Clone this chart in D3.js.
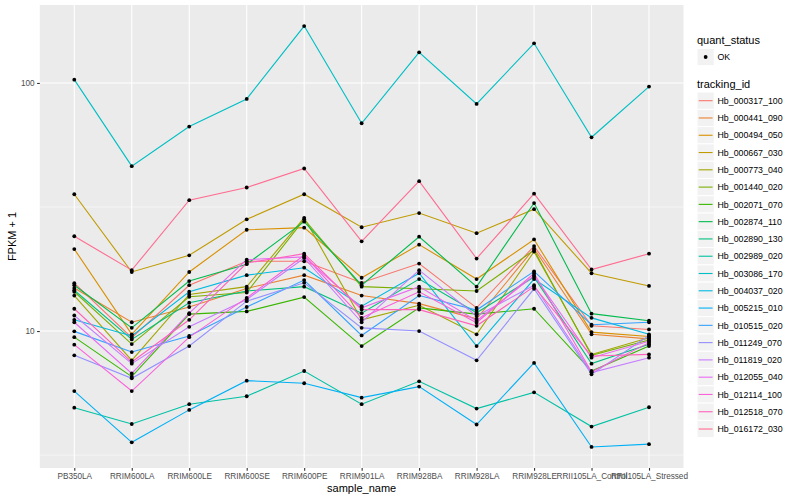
<!DOCTYPE html>
<html>
<head>
<meta charset="utf-8">
<script src="https://cdn.jsdelivr.net/npm/d3@7/dist/d3.min.js"></script>
<style>
body { margin: 0; background: #fff; }
text { font-family: "Liberation Sans", Arial, sans-serif; }
</style>
</head>
<body>
<div id="chart"></div>
<script>
// sample names on the x axis
const samples = ["PB350LA", "RRIM600LA", "RRIM600LE", "RRIM600SE", "RRIM600PE", "RRIM901LA",
  "RRIM928BA", "RRIM928LA", "RRIM928LE", "RRII105LA_Control", "RRII105LA_Stressed"];

const trackingIds = ["Hb_000317_100", "Hb_000441_090", "Hb_000494_050", "Hb_000667_030", "Hb_000773_040",
  "Hb_001440_020", "Hb_002071_070", "Hb_002874_110", "Hb_002890_130", "Hb_002989_020",
  "Hb_003086_170", "Hb_004037_020", "Hb_005215_010", "Hb_010515_020", "Hb_011249_070",
  "Hb_011819_020", "Hb_012055_040", "Hb_012114_100", "Hb_012518_070", "Hb_016172_030"];

// FPKM + 1, one array per gene, in sample order
const Hb_000317_100 = [15.6, 9.4, 15.3, 19.1, 19.1, 15.65, 18.7, 12.4, 22.0, 10.5, 10.15];
const Hb_000441_090 = [14.9, 10.85, 12.5, 14.85, 16.8, 13.9, 12.9, 11.2, 21.5, 9.7, 9.3];
const Hb_000494_050 = [21.4, 9.7, 17.3, 25.6, 26.1, 16.4, 22.3, 16.2, 23.4, 9.9, 9.5];
const Hb_000667_030 = [35.6, 17.3, 20.2, 28.2, 35.6, 26.2, 29.9, 24.8, 31.0, 17.1, 15.2];
const Hb_000773_040 = [13.9, 7.62, 14.05, 15.1, 28.6, 11.1, 12.7, 9.7, 20.9, 8.05, 9.4];
const Hb_001440_020 = [14.4, 8.86, 13.75, 14.3, 28.2, 15.1, 14.8, 14.5, 21.2, 7.98, 9.2];
const Hb_002071_070 = [9.45, 6.55, 11.7, 12.0, 13.7, 8.7, 12.4, 11.7, 12.3, 6.9, 8.7];
const Hb_002874_110 = [15.3, 10.3, 15.9, 18.6, 27.6, 15.3, 24.0, 15.1, 32.8, 11.75, 11.0];
const Hb_002890_130 = [14.6, 9.25, 13.0, 14.5, 15.1, 11.8, 16.2, 11.85, 16.5, 7.39, 8.84];
const Hb_002989_020 = [4.91, 4.22, 5.07, 5.46, 6.9, 5.07, 6.27, 4.87, 5.66, 4.12, 4.93];
const Hb_003086_170 = [103.1, 46.2, 66.7, 86.2, 169.6, 68.8, 132.9, 82.3, 144.5, 60.4, 96.7];
const Hb_004037_020 = [11.1, 9.55, 14.4, 16.8, 18.0, 12.6, 17.1, 8.7, 16.2, 11.3, 9.7];
const Hb_005215_010 = [5.73, 3.56, 4.81, 6.31, 6.16, 5.39, 5.97, 4.2, 7.44, 3.41, 3.5];
const Hb_010515_020 = [9.97, 8.23, 9.55, 12.5, 16.05, 9.6, 13.9, 12.15, 17.4, 10.6, 10.85];
const Hb_011249_070 = [7.98, 6.45, 8.7, 13.2, 15.65, 10.3, 10.0, 7.62, 14.8, 6.69, 9.6];
const Hb_011819_020 = [11.55, 7.39, 10.4, 13.4, 19.7, 10.85, 17.6, 11.5, 15.3, 6.8, 7.81];
const Hb_012055_040 = [10.85, 6.75, 11.8, 19.4, 19.9, 12.4, 15.1, 11.0, 16.75, 7.81, 9.1];
const Hb_012114_100 = [8.81, 5.73, 9.45, 13.6, 20.2, 11.3, 14.4, 10.8, 17.1, 6.84, 8.98];
const Hb_012518_070 = [12.3, 7.5, 11.1, 18.8, 20.5, 12.2, 12.2, 10.5, 15.1, 7.93, 8.05];
const Hb_016172_030 = [24.1, 17.6, 33.7, 37.9, 45.2, 23.0, 40.2, 19.6, 35.8, 17.7, 20.5];

const yMajor = [10, 100];
const yMinor = [Math.sqrt(10), Math.sqrt(1000)];

const seriesValues = [Hb_000317_100, Hb_000441_090, Hb_000494_050, Hb_000667_030, Hb_000773_040,
  Hb_001440_020, Hb_002071_070, Hb_002874_110, Hb_002890_130, Hb_002989_020,
  Hb_003086_170, Hb_004037_020, Hb_005215_010, Hb_010515_020, Hb_011249_070,
  Hb_011819_020, Hb_012055_040, Hb_012114_100, Hb_012518_070, Hb_016172_030];

const series = trackingIds.map((id, i) => ({
  id: id,
  values: samples.map((s, j) => ({sample: s, value: seriesValues[i][j]}))
}));

// ggplot hue palette
const color = d3.scaleOrdinal()
  .domain(trackingIds)
  .range(["#F8766D", "#EA8331", "#D89000", "#C09B00", "#A3A500", "#7CAE00", "#39B600", "#00BB4E",
    "#00BF7D", "#00C1A3", "#00BFC4", "#00BAE0", "#00B0F6", "#35A2FF", "#9590FF", "#C77CFF",
    "#E76BF3", "#FA62DB", "#FF62BC", "#FF6C91"]);

const width = 800, height = 500;
const panel = {left: 39.8, right: 683.5, top: 5, bottom: 468};

let svg = d3.select("#chart").append("svg")
  .attr("width", width)
  .attr("height", height);

let x = d3.scalePoint()
  .domain(samples)
  .range([panel.left, panel.right])
  .padding(0.6);

// log scale with 5% expansion like ggplot
let allLogs = seriesValues.flat().map(v => Math.log10(v));
let lo = d3.min(allLogs), hi = d3.max(allLogs);
let pad = (hi - lo) * 0.05;
let y = d3.scaleLog()
  .domain([Math.pow(10, lo - pad), Math.pow(10, hi + pad)])
  .range([panel.bottom, panel.top]);

svg.append("rect")
  .attr("x", panel.left).attr("y", panel.top)
  .attr("width", panel.right - panel.left)
  .attr("height", panel.bottom - panel.top)
  .attr("fill", "#EBEBEB");

let grid = svg.append("g");
grid.selectAll(".minor").data(yMinor).enter().append("line")
  .attr("x1", panel.left).attr("x2", panel.right)
  .attr("y1", d => y(d)).attr("y2", d => y(d))
  .attr("stroke", "#fff").attr("stroke-width", 0.55);
grid.selectAll(".major").data(yMajor).enter().append("line")
  .attr("x1", panel.left).attr("x2", panel.right)
  .attr("y1", d => y(d)).attr("y2", d => y(d))
  .attr("stroke", "#fff").attr("stroke-width", 1.1);
grid.selectAll(".vmajor").data(samples).enter().append("line")
  .attr("x1", d => x(d)).attr("x2", d => x(d))
  .attr("y1", panel.top).attr("y2", panel.bottom)
  .attr("stroke", "#fff").attr("stroke-width", 1.1);

let line = d3.line()
  .x(d => x(d.sample))
  .y(d => y(d.value));

svg.append("g").selectAll("path")
  .data(series)
  .enter().append("path")
  .attr("d", d => line(d.values))
  .attr("fill", "none")
  .attr("stroke", d => color(d.id))
  .attr("stroke-width", 1.1);

svg.append("g").selectAll("circle")
  .data(series.flatMap(d => d.values))
  .enter().append("circle")
  .attr("cx", d => x(d.sample))
  .attr("cy", d => y(d.value))
  .attr("r", 1.9)
  .attr("fill", "#000");

// axes
let xAxis = svg.append("g")
  .attr("transform", "translate(0," + panel.bottom + ")")
  .call(d3.axisBottom(x).tickSize(2.7).tickPadding(2.5));
let yAxis = svg.append("g")
  .attr("transform", "translate(" + panel.left + ",0)")
  .call(d3.axisLeft(y).tickValues(yMajor).tickFormat(d3.format("d")).tickSize(2.7).tickPadding(2.5));

[xAxis, yAxis].forEach(a => {
  a.select(".domain").remove();
  a.selectAll(".tick line").attr("stroke", "#333").attr("stroke-width", 1.1);
  a.selectAll(".tick text")
    .attr("fill", "#4D4D4D")
    .style("font-size", "8.2px")
    .style("font-family", "'Liberation Sans', Arial, sans-serif");
});

svg.append("text")
  .attr("x", (panel.left + panel.right) / 2)
  .attr("y", 492)
  .attr("text-anchor", "middle")
  .style("font-size", "11px")
  .text("sample_name");

svg.append("text")
  .attr("transform", "translate(16," + ((panel.top + panel.bottom) / 2) + ") rotate(-90)")
  .attr("text-anchor", "middle")
  .style("font-size", "11px")
  .text("FPKM + 1");

// legend
let legend = svg.append("g").attr("transform", "translate(697,0)");
let keyH = 17.28;

legend.append("text").attr("x", 0).attr("y", 44).style("font-size", "11px").text("quant_status");
legend.append("rect").attr("x", 0).attr("y", 57 - keyH / 2).attr("width", keyH).attr("height", keyH)
  .attr("fill", "#F2F2F2").attr("stroke", "#fff");
legend.append("circle").attr("cx", keyH / 2).attr("cy", 57).attr("r", 1.9).attr("fill", "#000");
legend.append("text").attr("x", 20.5).attr("y", 60.2).style("font-size", "8.8px").text("OK");

legend.append("text").attr("x", 0).attr("y", 88).style("font-size", "11px").text("tracking_id");

let keys = legend.selectAll(".key")
  .data(trackingIds)
  .enter().append("g")
  .attr("class", "key")
  .attr("transform", (d, i) => "translate(0," + (100.7 + i * keyH) + ")");

keys.append("rect")
  .attr("x", 0).attr("y", -keyH / 2)
  .attr("width", keyH).attr("height", keyH)
  .attr("fill", "#F2F2F2").attr("stroke", "#fff");
keys.append("line")
  .attr("x1", 1.7).attr("x2", keyH - 1.7)
  .attr("stroke", d => color(d))
  .attr("stroke-width", 1.1);
keys.append("text")
  .attr("x", 20.5).attr("y", 3.2)
  .style("font-size", "8.8px")
  .text(d => d);
</script>
</body>
</html>
